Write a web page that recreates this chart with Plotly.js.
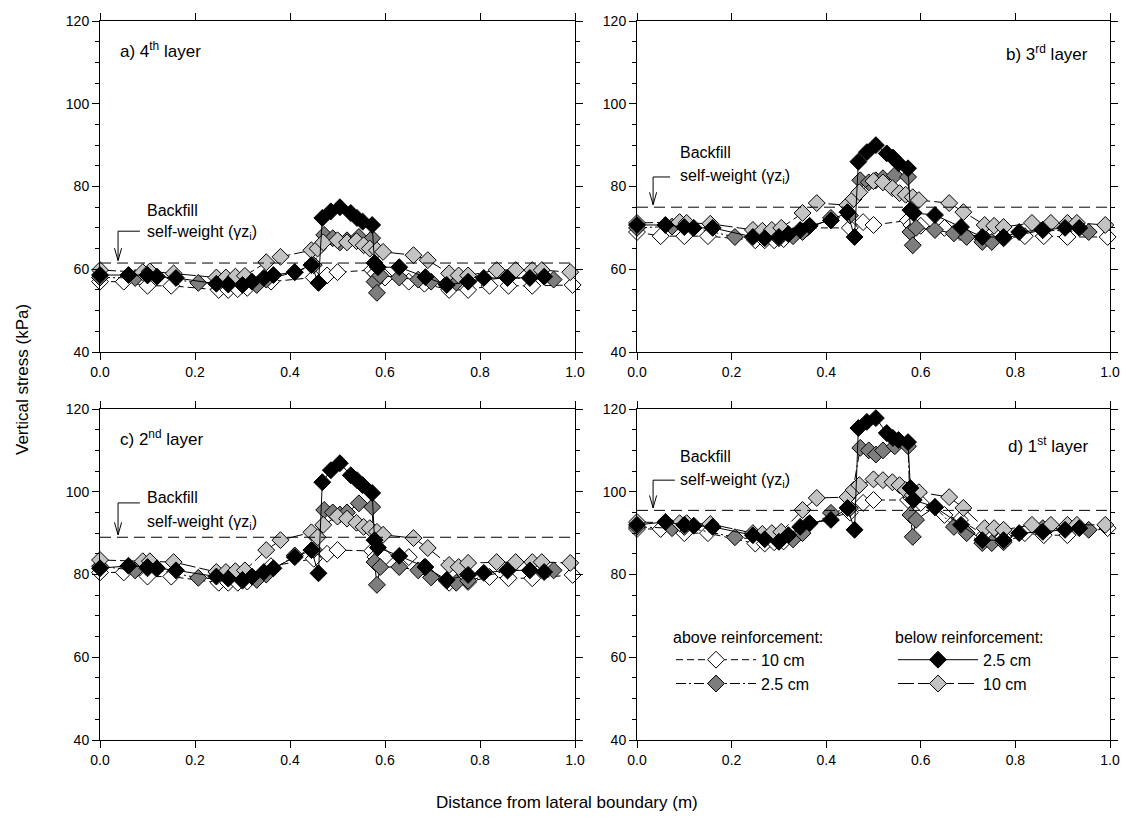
<!DOCTYPE html>
<html>
<head>
<meta charset="utf-8">
<script src="https://cdn.plot.ly/plotly-3.0.1.min.js"></script>
<style>html,body{margin:0;padding:0;background:#fff;}#chart{width:1126px;height:825px;}</style>
</head>
<body>
<div id="chart"></div>
<script>
// ---- data ----
const panelLabels = ["a) 4<sup>th</sup> layer", "b) 3<sup>rd</sup> layer", "c) 2<sup>nd</sup> layer", "d) 1<sup>st</sup> layer"];
const selfWeight = [61.5, 75, 89, 95.5];

// above reinforcement, 10 cm (white)
const xAbove10 = [0.0, 0.05, 0.1, 0.15, 0.25, 0.27, 0.29, 0.31, 0.36, 0.45, 0.478, 0.5, 0.573, 0.58, 0.6, 0.65, 0.683, 0.735, 0.775, 0.82, 0.86, 0.91, 0.995];
const a_above10 = [57, 57, 56, 56, 55, 55, 55.2, 55.5, 57, 58, 58.5, 59.3, 59.8, 59, 58, 57, 56.5, 55, 55, 56, 56, 56, 56.2];
const b_above10 = [69, 68, 68, 68, 67, 67, 67, 67.3, 70, 70, 71.4, 70.7, 71.8, 70.7, 70.5, 70, 69, 67.5, 67.5, 68, 68, 67.8, 67.8];
const c_above10 = [80.5, 80.5, 79.5, 79.5, 78, 78, 78, 78.3, 82, 83.8, 85, 85.9, 85.7, 84.2, 84.2, 84.2, 81.8, 78, 78.2, 79.4, 79.1, 79.1, 79.9];
const d_above10 = [91, 91, 90, 90, 87.5, 87.5, 87.8, 88, 92, 95, 97.3, 98, 98, 98.5, 97.3, 94.4, 93.2, 89.5, 89.1, 90, 89.5, 89.5, 91.2];

// above reinforcement, 2.5 cm (dark grey)
const xAbove25 = [0.0, 0.074, 0.1, 0.207, 0.3, 0.33, 0.35, 0.41, 0.45, 0.472, 0.49, 0.505, 0.52, 0.545, 0.573, 0.578, 0.583, 0.59, 0.63, 0.67, 0.697, 0.73, 0.75, 0.775, 0.858, 0.955];
const a_above25 = [58, 57.9, 58.5, 56.7, 56.5, 56.2, 57.5, 59.3, 61, 68.3, 67.5, 66.5, 67, 67.8, 67.5, 57, 54.3, 58.5, 58, 57.5, 57, 56.5, 56.8, 57, 58, 57.5];
const b_above25 = [70, 70.3, 70.5, 67.8, 67.5, 68, 69, 72.4, 73, 81.5, 81, 81.5, 82, 82.7, 82.3, 69, 65.8, 70, 69.5, 68.7, 67.8, 66.6, 66.6, 67.5, 69.5, 69];
const c_above25 = [82, 81, 81.5, 79.2, 78.5, 78.7, 80, 84.6, 86, 95.6, 95, 94.5, 95, 97.2, 96.3, 83, 77.5, 81.8, 81.8, 81, 79.3, 78.5, 78, 78.5, 81, 81];
const d_above25 = [91.5, 91.2, 91.5, 89, 88, 88.5, 90, 94.9, 96, 110.6, 110, 109, 110, 111, 111, 94.4, 89.1, 93.2, 96.3, 91.5, 90, 87.6, 87.6, 87.8, 91.2, 90.8];

// below reinforcement, 2.5 cm (black)
const xBelow25 = [0.0, 0.06, 0.1, 0.12, 0.16, 0.245, 0.27, 0.3, 0.32, 0.345, 0.365, 0.41, 0.445, 0.46, 0.468, 0.486, 0.505, 0.528, 0.541, 0.553, 0.573, 0.578, 0.585, 0.63, 0.685, 0.73, 0.775, 0.808, 0.858, 0.905, 0.935];
const a_below25 = [58.6, 58.6, 58.6, 58.2, 57.9, 56.5, 56.3, 56.2, 57, 57.9, 58.6, 59.3, 61, 56.7, 72.4, 74, 75, 73.6, 72.4, 71.5, 70.7, 61.5, 60.5, 60.5, 58.1, 56.2, 57, 57.9, 57.9, 57.9, 58.2];
const b_below25 = [70.7, 70.7, 70.2, 70, 70, 67.8, 67.5, 67.8, 68.5, 69.5, 70.5, 71.8, 73.8, 67.8, 86, 88.3, 90, 88, 87, 85.6, 84.4, 74.3, 73.6, 73.1, 70.2, 67.8, 67.8, 69, 69.5, 70, 70];
const c_below25 = [81.5, 82.1, 81.8, 81.5, 81, 79.5, 79, 78.7, 79.5, 80.6, 81.5, 84.2, 85.9, 80.3, 102.3, 105.2, 106.9, 104, 102.8, 101.6, 99.7, 88.3, 86.5, 84.5, 81.8, 78.7, 79.9, 80.4, 81, 81, 80.6];
const d_below25 = [92, 92.7, 92, 91.8, 91.5, 89.5, 88.5, 87.9, 89.5, 91.5, 92.4, 93.2, 96.1, 90.8, 115.4, 116.9, 117.8, 114.2, 113, 112.5, 112, 100.9, 98, 96.3, 92, 88.3, 88.3, 90, 90.3, 90.8, 91.2];

// below reinforcement, 10 cm (light grey)
const xBelow10 = [0.0, 0.09, 0.105, 0.155, 0.245, 0.265, 0.285, 0.305, 0.35, 0.38, 0.445, 0.458, 0.47, 0.5, 0.52, 0.54, 0.555, 0.568, 0.583, 0.596, 0.66, 0.69, 0.735, 0.755, 0.775, 0.835, 0.875, 0.91, 0.93, 0.99];
const a_below10 = [59.8, 59.3, 59.5, 59, 58, 58, 58.2, 58.4, 61.7, 63, 64.6, 65, 66.5, 67, 66.5, 66.8, 65.8, 65, 64.6, 64.2, 63.4, 62.2, 59, 58.5, 58.5, 59.8, 59.8, 59.8, 59.8, 59.3];
const b_below10 = [71.2, 71.4, 71.2, 71, 69.5, 69.3, 69.5, 70, 73.6, 76, 75.5, 77, 78.6, 81.3, 81, 79.6, 78.4, 78, 77.4, 76.7, 76, 73.8, 70.7, 70.5, 70.2, 71.2, 71.2, 71.2, 71.2, 70.7];
const c_below10 = [83.5, 83.2, 83.2, 83, 80.6, 80.6, 80.8, 81, 85.9, 88.3, 90.2, 89, 92, 94, 93.5, 92.5, 91.5, 91.2, 90.3, 89.6, 88.8, 86.4, 82.3, 81.8, 82.8, 83, 83, 83, 83, 82.8];
const d_below10 = [92.7, 92.4, 92.4, 92.2, 90, 89.8, 90, 90.3, 95.6, 98.5, 98.7, 100.4, 101.6, 103, 102.8, 102.3, 101.6, 100.4, 99.2, 99.9, 98.7, 96.1, 91.2, 91.2, 90.8, 92, 92, 92, 92, 92];

const seriesNames = ["10 cm", "2.5 cm", "2.5 cm", "10 cm"];

// ---- build ----
const FONT = "Liberation Sans, Arial, sans-serif";
const panelsY = [
  [a_above10, a_above25, a_below25, a_below10],
  [b_above10, b_above25, b_below25, b_below10],
  [c_above10, c_above25, c_below25, c_below10],
  [d_above10, d_above25, d_below25, d_below10]
];
const seriesX = [xAbove10, xAbove25, xBelow25, xBelow10];
const styles = [
  {fill: "#ffffff", dash: "7px,4px", legend: "legend"},
  {fill: "#7d7d7d", dash: "10px,3px,2px,3px", legend: "legend"},
  {fill: "#000000", dash: "solid", legend: "legend2"},
  {fill: "#c3c3c3", dash: "16px,4px", legend: "legend2"}
];
const drawOrder = [0, 1, 3, 2];

const traces = [];
panelsY.forEach((ys, p) => {
  const xa = p === 0 ? "x" : "x" + (p + 1);
  const ya = p === 0 ? "y" : "y" + (p + 1);
  drawOrder.forEach(s => {
    traces.push({
      type: "scatter", mode: "lines+markers",
      x: seriesX[s], y: ys[s], xaxis: xa, yaxis: ya,
      name: seriesNames[s], legend: styles[s].legend,
      showlegend: p === 0,
      line: {color: "#000", width: 1, dash: styles[s].dash},
      marker: {symbol: "diamond", size: 13, color: styles[s].fill, line: {color: "#000", width: 1}},
      cliponaxis: false
    });
  });
});

const W = 1126, H = 825;
const xDom = [[100 / W, 575 / W], [637 / W, 1110 / W]];
const yDom = [[1 - 352 / H, 1 - 21 / H], [1 - 740 / H, 1 - 409 / H]];

function xAxis(i) {
  return {
    domain: xDom[i % 2], anchor: i === 0 ? "y" : "y" + (i + 1),
    range: [0, 1], dtick: 0.2, tick0: 0, tickformat: ".1f",
    showline: true, linecolor: "#000", linewidth: 1, mirror: "allticks",
    ticks: "outside", ticklen: 7, tickcolor: "#000", tickwidth: 1,
    showgrid: false, zeroline: false,
    tickfont: {family: FONT, size: 14, color: "#000"}
  };
}
function yAxis(i) {
  return {
    domain: yDom[Math.floor(i / 2)], anchor: i === 0 ? "x" : "x" + (i + 1),
    range: [40, 120], dtick: 20, tick0: 40,
    showline: true, linecolor: "#000", linewidth: 1, mirror: "allticks",
    ticks: "outside", ticklen: 7, tickcolor: "#000", tickwidth: 1,
    minor: {dtick: 5, ticks: "outside", ticklen: 4, tickcolor: "#000", showgrid: false},
    showgrid: false, zeroline: false,
    tickfont: {family: FONT, size: 14, color: "#000"}
  };
}

const layout = {
  width: W, height: H,
  margin: {l: 0, r: 0, t: 0, b: 0},
  paper_bgcolor: "#fff", plot_bgcolor: "#fff",
  font: {family: FONT, color: "#000"},
  legend: {
    x: 671 / W, y: 1 - 622 / H, xanchor: "left", yanchor: "top",
    title: {text: "above reinforcement:", font: {family: FONT, size: 16}},
    font: {family: FONT, size: 16}, itemwidth: 80, bgcolor: "rgba(0,0,0,0)",
    tracegroupgap: 0, traceorder: "normal"
  },
  legend2: {
    x: 893 / W, y: 1 - 622 / H, xanchor: "left", yanchor: "top",
    title: {text: "below reinforcement:", font: {family: FONT, size: 16}},
    font: {family: FONT, size: 16}, itemwidth: 80, bgcolor: "rgba(0,0,0,0)",
    tracegroupgap: 0, traceorder: "reversed"
  },
  shapes: [],
  annotations: []
};
for (let i = 0; i < 4; i++) {
  layout[i === 0 ? "xaxis" : "xaxis" + (i + 1)] = xAxis(i);
  layout[i === 0 ? "yaxis" : "yaxis" + (i + 1)] = yAxis(i);
}

const labelPos = [
  {lx: 0.038, ly: 0.912, anchor: "left"},
  {lx: 0.958, ly: 0.903, anchor: "right"},
  {lx: 0.038, ly: 0.912, anchor: "left"},
  {lx: 0.958, ly: 0.891, anchor: "right"}
];
const arrowGeo = [
  {xv: 0.038, xh: 0.084, yh: 69.2, tx: 0.095, t1: 74.1, t2: 69.0},
  {xv: 0.034, xh: 0.070, yh: 82.3, tx: 0.087, t1: 88.3, t2: 82.3},
  {xv: 0.038, xh: 0.084, yh: 97.3, tx: 0.095, t1: 98.6, t2: 92.5},
  {xv: 0.034, xh: 0.080, yh: 102.8, tx: 0.087, t1: 108.4, t2: 102.8}
];
for (let i = 0; i < 4; i++) {
  const xs = i === 0 ? "x" : "x" + (i + 1);
  const ys = i === 0 ? "y" : "y" + (i + 1);
  layout.shapes.push({type: "line", xref: xs + " domain", yref: ys, x0: 0, x1: 1, y0: selfWeight[i], y1: selfWeight[i],
    line: {color: "#000", width: 1, dash: "11px,6px"}});
  const g = arrowGeo[i];
  const tip = selfWeight[i] + 0.6;
  layout.shapes.push({type: "path", xref: xs + " domain", yref: ys,
    path: `M ${g.xh},${g.yh} L ${g.xv},${g.yh} L ${g.xv},${tip}`, line: {color: "#000", width: 1}});
  layout.shapes.push({type: "path", xref: xs + " domain", yref: ys,
    path: `M ${g.xv - 0.0075},${tip + 3} L ${g.xv},${tip} L ${g.xv + 0.0075},${tip + 3}`, line: {color: "#000", width: 1}});
  layout.annotations.push({xref: xs + " domain", yref: ys, x: g.tx, y: g.t1, xanchor: "left", yanchor: "middle",
    text: "Backfill", showarrow: false, font: {family: FONT, size: 16, color: "#000"}});
  layout.annotations.push({xref: xs + " domain", yref: ys, x: g.tx, y: g.t2, xanchor: "left", yanchor: "middle",
    text: "self-weight (γz<sub>i</sub>)", showarrow: false, font: {family: FONT, size: 16, color: "#000"}});
  const lp = labelPos[i];
  layout.annotations.push({xref: xs + " domain", yref: ys + " domain", x: lp.lx, y: lp.ly, xanchor: lp.anchor, yanchor: "middle",
    text: panelLabels[i], showarrow: false, font: {family: FONT, size: 17, color: "#000"}});
}
layout.annotations.push({xref: "paper", yref: "paper", x: 22 / W, y: 1 - 380 / H, textangle: -90,
  text: "Vertical stress (kPa)", showarrow: false, xanchor: "center", yanchor: "middle",
  font: {family: FONT, size: 17, color: "#000"}});
layout.annotations.push({xref: "paper", yref: "paper", x: 567 / W, y: 1 - 802 / H,
  text: "Distance from lateral boundary (m)", showarrow: false, xanchor: "center", yanchor: "middle",
  font: {family: FONT, size: 17, color: "#000"}});

Plotly.newPlot("chart", traces, layout, {staticPlot: true});
</script>
</body>
</html>
